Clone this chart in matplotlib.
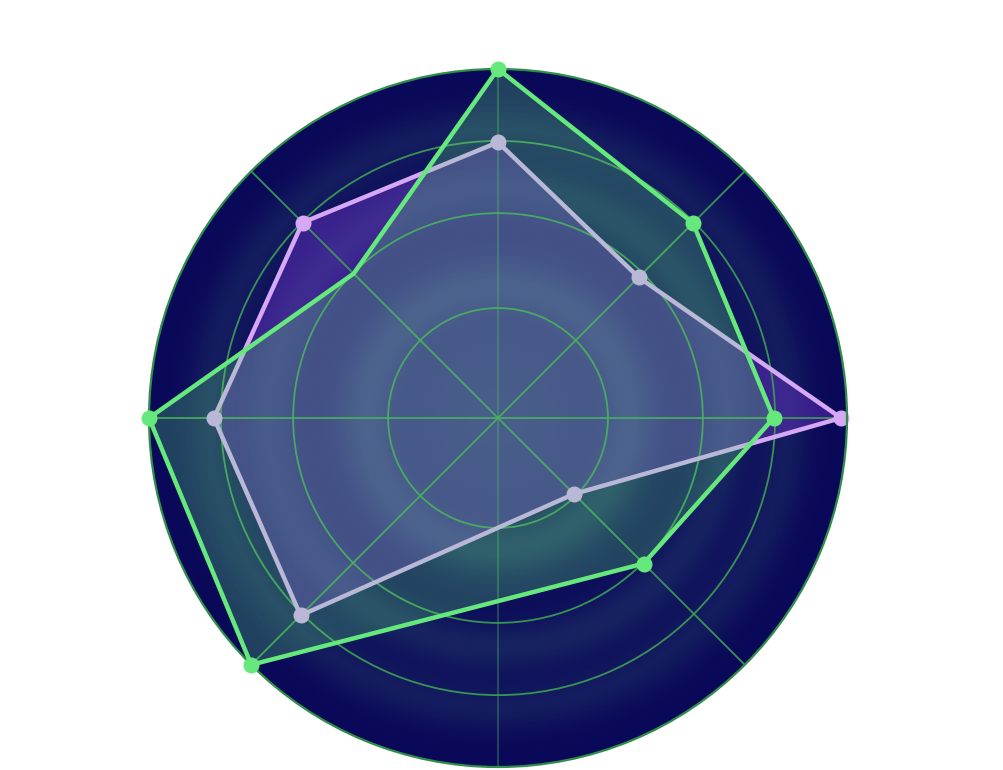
import numpy as np
import matplotlib
matplotlib.use('Agg')
import matplotlib.pyplot as plt
from matplotlib.colors import LinearSegmentedColormap

# ---- data (clockwise from top) ----
categories = ["A", "B", "C", "D", "E", "F", "G", "H"]
purple_values = [79, 57, 98.3, 30.8, np.nan, 80, 81.4, 79.2]
green_values = [100, 79, 79, 59, np.nan, 100, 100, 58.5]
green_marker_shown = [True, True, True, True, False, True, True, False]
grid_levels = [31.5, 58.7, 79.4]
r_max = 100

purple_line = '#d6a8f6'
purple_fill = '#9040f0'
green_line = '#66e97c'
grid_color = '#3fa055'
navy = np.array([10, 8, 88]) / 255

fig = plt.figure(figsize=(10.04, 7.70), dpi=100)
cx, cy, rad = 498, 418, 349
ax = fig.add_axes([(cx - rad) / 1004, (770 - cy - rad) / 770,
                   2 * rad / 1004, 2 * rad / 770], projection='polar')
ax.set_theta_zero_location('N')
ax.set_theta_direction(-1)
ax.set_ylim(0, r_max)
ax.set_facecolor(navy)

# ---- glowing background ----
rho = np.linspace(0, 1, 256)
glow = np.array([70, 135, 130]) / 255
amp = np.zeros_like(rho)
for c, a in [(0.38, 0.24), (0.66, 0.20), (0.83, 0.16)]:
    amp += a * np.exp(-0.5 * ((rho - c) / 0.05) ** 2)
amp += 0.26 * np.exp(-0.5 * (rho / 0.28) ** 2)
amp = np.clip(amp, 0, 1)
cols = navy * (1 - amp[:, None]) + glow * amp[:, None]
cmap = LinearSegmentedColormap.from_list('bg', cols)
theta_bg = np.linspace(0, 2 * np.pi, 361)
r_bg = np.linspace(0, r_max, 200)
T, R = np.meshgrid(theta_bg, r_bg)
ax.pcolormesh(T, R, R, cmap=cmap, vmin=0, vmax=r_max, shading='gouraud',
              zorder=0, rasterized=True)

# ---- grid ----
n = len(categories)
angles = np.deg2rad(np.arange(n) * 360.0 / n)
ax.set_thetagrids(np.degrees(angles), labels=[''] * n)
ax.set_rgrids(grid_levels, labels=[''] * len(grid_levels))
ax.set_ylim(0, r_max)
ax.grid(True, color=grid_color, lw=1.3, alpha=0.9)
for i, gl in enumerate(ax.xaxis.get_gridlines()):
    if i % 4 == 0:
        gl.set_alpha(0.45)
ax.tick_params(length=0)
ax.spines['polar'].set_color('#2f8f4a')
ax.spines['polar'].set_linewidth(1.6)


def closed(vals):
    v = np.array(vals, dtype=float)
    m = np.isfinite(v)
    a = angles[m]
    v = v[m]
    return np.append(a, a[0]), np.append(v, v[0]), m


# purple series
pa, pv, pm = closed(purple_values)
ax.fill(pa, pv, color=purple_fill, alpha=0.33, lw=0, zorder=1)
ax.plot(pa, pv, color=purple_line, lw=3.2, zorder=2, solid_joinstyle='miter')
ax.plot(angles[pm], np.array(purple_values)[pm], 'o', color=purple_line,
        ms=10.5, zorder=2.2, clip_on=False)

# green series
ga, gv, gm = closed(green_values)
ax.fill(ga, gv, color=green_line, alpha=0.25, lw=0, zorder=2.5)
ax.plot(ga, gv, color=green_line, lw=3.2, zorder=3, clip_on=False,
        solid_joinstyle='miter')
show = gm & np.array(green_marker_shown)
ax.plot(angles[show], np.array(green_values)[show], 'o', color=green_line,
        ms=10.5, zorder=3.2, clip_on=False)

fig.savefig('out.png', dpi=100)
